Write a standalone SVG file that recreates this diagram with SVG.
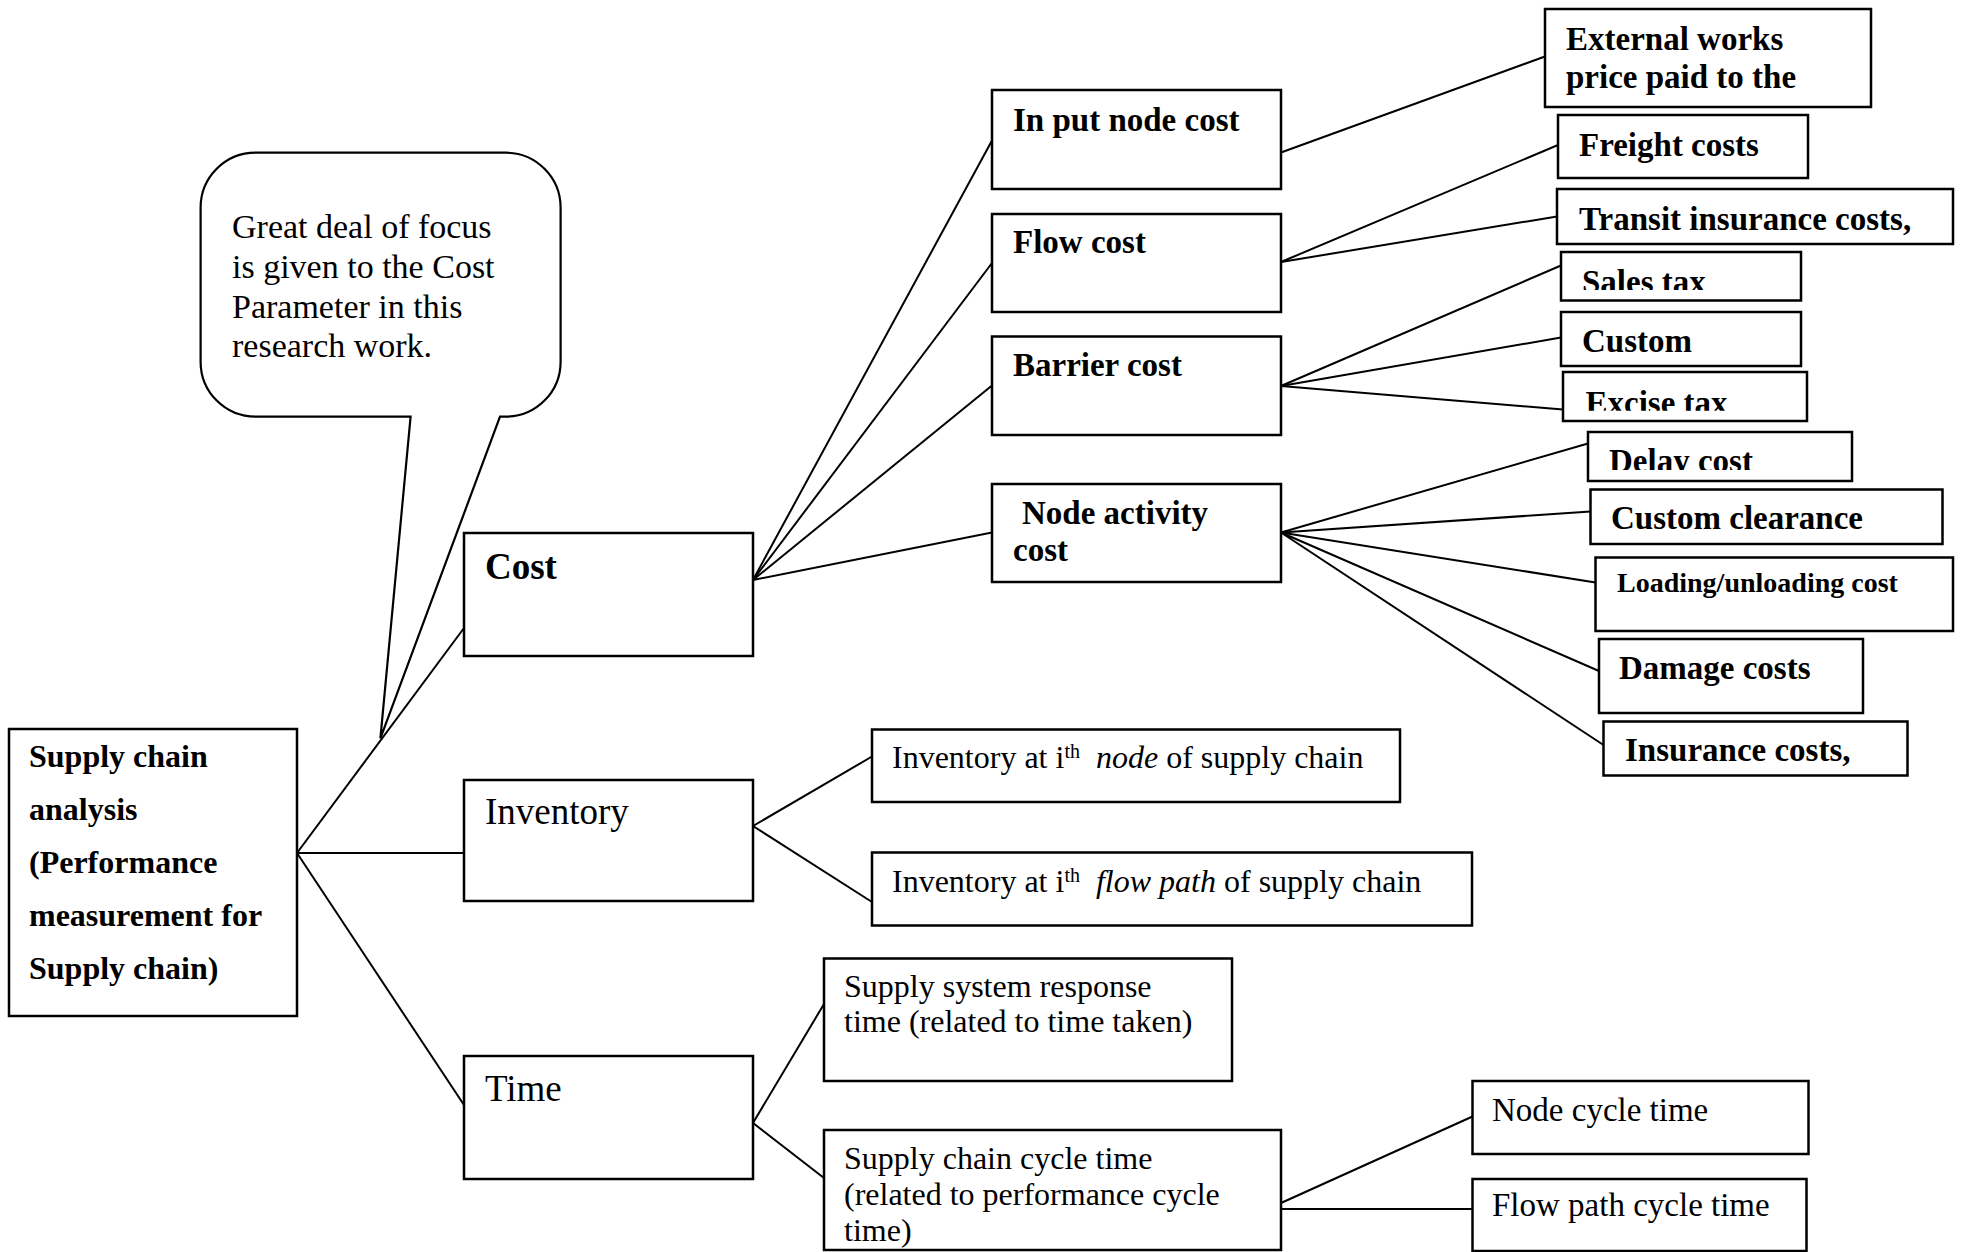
<svg xmlns="http://www.w3.org/2000/svg" width="1962" height="1252" viewBox="0 0 1962 1252">
  <style>
    .box { fill: #fff; stroke: #000; stroke-width: 2.5; }
    .bubble { fill: #fff; stroke: #000; stroke-width: 2.2; stroke-linejoin: miter; }
    .link { stroke: #000; stroke-width: 2; fill: none; }
    text { font-family: "Liberation Serif", "Times New Roman", serif; fill: #000; }
    .b { font-weight: bold; font-size: 33px; }
    .root { font-weight: bold; font-size: 32px; }
    .main { font-size: 37px; }
    .reg { font-size: 32px; }
    .reg2 { font-size: 33px; }
    .note { font-size: 34px; }
    .small { font-weight: bold; font-size: 28px; }
    .sup { font-size: 20px; }
  </style>
  <defs>
    <clipPath id="clipSales"><rect x="1561" y="252" width="240" height="38"/></clipPath>
    <clipPath id="clipExcise"><rect x="1563" y="372" width="244" height="38.7"/></clipPath>
    <clipPath id="clipDelay"><rect x="1588" y="432" width="264" height="38"/></clipPath>
  </defs>
  <rect width="1962" height="1252" fill="#fff"/>

  <!-- connectors -->
  <g id="connectors">
    <line class="link" x1="297" y1="853" x2="464" y2="628"/>
    <line class="link" x1="297" y1="853" x2="464" y2="853"/>
    <line class="link" x1="297" y1="853" x2="464" y2="1105"/>

    <line class="link" x1="753" y1="580" x2="992" y2="140.5"/>
    <line class="link" x1="753" y1="580" x2="992" y2="263"/>
    <line class="link" x1="753" y1="580" x2="992" y2="385.5"/>
    <line class="link" x1="753" y1="580" x2="992" y2="532.5"/>

    <line class="link" x1="1281" y1="152.5" x2="1545" y2="56.5"/>

    <line class="link" x1="1281" y1="262" x2="1558" y2="145"/>
    <line class="link" x1="1281" y1="262" x2="1557" y2="216.5"/>

    <line class="link" x1="1281" y1="386" x2="1561" y2="265.5"/>
    <line class="link" x1="1281" y1="386" x2="1561" y2="337.5"/>
    <line class="link" x1="1281" y1="386" x2="1563" y2="409.5"/>

    <line class="link" x1="1281" y1="532.5" x2="1588" y2="443.5"/>
    <line class="link" x1="1281" y1="532.5" x2="1590.5" y2="511.5"/>
    <line class="link" x1="1281" y1="532.5" x2="1595.5" y2="582.5"/>
    <line class="link" x1="1281" y1="532.5" x2="1599" y2="671"/>
    <line class="link" x1="1281" y1="532.5" x2="1603.5" y2="745"/>

    <line class="link" x1="753" y1="826" x2="872" y2="756.5"/>
    <line class="link" x1="753" y1="826" x2="872" y2="902"/>

    <line class="link" x1="753" y1="1123" x2="824" y2="1004"/>
    <line class="link" x1="753" y1="1123" x2="824" y2="1178"/>

    <line class="link" x1="1281" y1="1203" x2="1472.5" y2="1116.5"/>
    <line class="link" x1="1281" y1="1209" x2="1472.5" y2="1209"/>
  </g>

  <!-- callout -->
  <g id="note-callout">
    <path class="bubble" d="M255.6,152.7 H505.6 A55,55 0 0 1 560.6,207.7 V361.7 A55,55 0 0 1 505.6,416.7 H500 L380.4,738.3 L410.6,416.7 H255.6 A55,55 0 0 1 200.6,361.7 V207.7 A55,55 0 0 1 255.6,152.7 Z"/>
    <text class="note" x="232" y="238">Great deal of focus</text>
    <text class="note" x="232" y="278">is given to the Cost</text>
    <text class="note" x="232" y="318">Parameter in this</text>
    <text class="note" x="232" y="357">research work.</text>
  </g>

  <!-- root -->
  <g id="supply-chain-analysis">
    <rect class="box" x="9" y="729" width="288" height="287"/>
    <text class="root" x="29" y="767">Supply chain</text>
    <text class="root" x="29" y="820">analysis</text>
    <text class="root" x="29" y="872.5">(Performance</text>
    <text class="root" x="29" y="925.5">measurement for</text>
    <text class="root" x="29" y="979">Supply chain)</text>
  </g>

  <!-- level 1 -->
  <g id="cost">
    <rect class="box" x="464" y="533" width="289" height="123"/>
    <text class="main" x="485" y="579" font-weight="bold">Cost</text>
  </g>
  <g id="inventory">
    <rect class="box" x="464" y="780" width="289" height="121"/>
    <text class="main" x="485" y="824">Inventory</text>
  </g>
  <g id="time">
    <rect class="box" x="464" y="1056" width="289" height="123"/>
    <text class="main" x="485" y="1101">Time</text>
  </g>

  <!-- cost branches -->
  <g id="input-node-cost">
    <rect class="box" x="992" y="90" width="289" height="99"/>
    <text class="b" x="1013" y="131">In put node cost</text>
  </g>
  <g id="flow-cost">
    <rect class="box" x="992" y="214" width="289" height="98"/>
    <text class="b" x="1013" y="253">Flow cost</text>
  </g>
  <g id="barrier-cost">
    <rect class="box" x="992" y="336.5" width="289" height="98.5"/>
    <text class="b" x="1013" y="376">Barrier cost</text>
  </g>
  <g id="node-activity-cost">
    <rect class="box" x="992" y="484" width="289" height="98"/>
    <text class="b" x="1022" y="524">Node activity</text>
    <text class="b" x="1013" y="561">cost</text>
  </g>

  <!-- cost leaves -->
  <g id="external-works">
    <rect class="box" x="1545" y="9" width="326" height="98"/>
    <text class="b" x="1566" y="50">External works</text>
    <text class="b" x="1566" y="88">price paid to the</text>
  </g>
  <g id="freight-costs">
    <rect class="box" x="1558" y="115" width="250" height="63"/>
    <text class="b" x="1579" y="155.5">Freight costs</text>
  </g>
  <g id="transit-insurance">
    <rect class="box" x="1557" y="189" width="396" height="55"/>
    <text class="b" x="1579" y="230">Transit insurance costs,</text>
  </g>
  <g id="sales-tax">
    <rect class="box" x="1561" y="252" width="240" height="48.5"/>
    <text class="b" x="1582" y="292.5" clip-path="url(#clipSales)">Sales tax</text>
  </g>
  <g id="custom">
    <rect class="box" x="1561" y="312" width="240" height="54"/>
    <text class="b" x="1582" y="351.5">Custom</text>
  </g>
  <g id="excise-tax">
    <rect class="box" x="1563" y="372" width="244" height="49"/>
    <text class="b" x="1585.5" y="413.5" clip-path="url(#clipExcise)">Excise tax</text>
  </g>
  <g id="delay-cost">
    <rect class="box" x="1588" y="432" width="264" height="49"/>
    <text class="b" x="1609" y="471.5" clip-path="url(#clipDelay)">Delay cost</text>
  </g>
  <g id="custom-clearance">
    <rect class="box" x="1590.5" y="489.5" width="352" height="54.5"/>
    <text class="b" x="1611" y="528.5">Custom clearance</text>
  </g>
  <g id="loading-unloading">
    <rect class="box" x="1595.5" y="557.5" width="357.5" height="73.5"/>
    <text class="small" x="1617" y="591.5">Loading/unloading cost</text>
  </g>
  <g id="damage-costs">
    <rect class="box" x="1599" y="639" width="264" height="74"/>
    <text class="b" x="1619" y="678.5">Damage costs</text>
  </g>
  <g id="insurance-costs">
    <rect class="box" x="1603.5" y="721.5" width="304" height="54"/>
    <text class="b" x="1625" y="761">Insurance costs,</text>
  </g>

  <!-- inventory leaves -->
  <g id="inventory-node">
    <rect class="box" x="872" y="729.5" width="528" height="72.5"/>
    <text class="reg" x="892" y="768">Inventory at i<tspan class="sup" dy="-10">th</tspan><tspan dy="10" xml:space="preserve">  </tspan><tspan font-style="italic">node</tspan> of supply chain</text>
  </g>
  <g id="inventory-flow-path">
    <rect class="box" x="872" y="852.5" width="600" height="73"/>
    <text class="reg" x="892" y="891.5">Inventory at i<tspan class="sup" dy="-10">th</tspan><tspan dy="10" xml:space="preserve">  </tspan><tspan font-style="italic">flow path</tspan> of supply chain</text>
  </g>

  <!-- time leaves -->
  <g id="response-time">
    <rect class="box" x="824" y="958.5" width="408" height="122.5"/>
    <text class="reg" x="844" y="997">Supply system response</text>
    <text class="reg" x="844" y="1032">time (related to time taken)</text>
  </g>
  <g id="cycle-time">
    <rect class="box" x="824" y="1130" width="457" height="120"/>
    <text class="reg" x="844" y="1169">Supply chain cycle time</text>
    <text class="reg" x="844" y="1205">(related to performance cycle</text>
    <text class="reg" x="844" y="1241">time)</text>
  </g>
  <g id="node-cycle-time">
    <rect class="box" x="1472.5" y="1081" width="336" height="73"/>
    <text class="reg2" x="1492" y="1121">Node cycle time</text>
  </g>
  <g id="flow-path-cycle-time">
    <rect class="box" x="1472.5" y="1179" width="334" height="72"/>
    <text class="reg2" x="1492" y="1216">Flow path cycle time</text>
  </g>
</svg>
